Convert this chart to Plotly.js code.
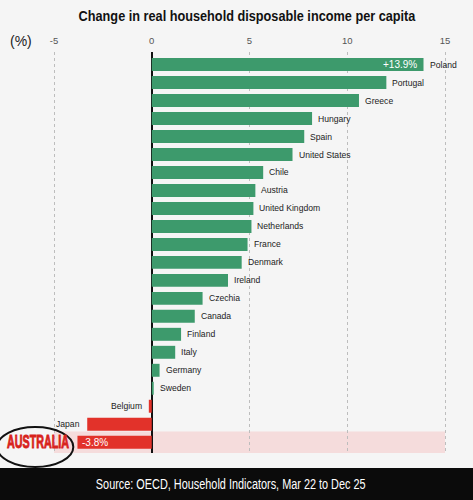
<!DOCTYPE html>
<html><head><meta charset="utf-8">
<script src="https://cdn.plot.ly/plotly-3.0.1.min.js"></script>
<style>body{margin:0;background:#f5f5f5}</style>
</head><body><div id="chart" style="width:473px;height:500px"></div>
<script>
const countries = ["Poland","Portugal","Greece","Hungary","Spain","United States","Chile","Austria","United Kingdom","Netherlands","France","Denmark","Ireland","Czechia","Canada","Finland","Italy","Germany","Sweden","Belgium","Japan","Australia"];
const values = [13.9,12.0,10.6,8.2,7.8,7.2,5.7,5.3,5.2,5.1,4.9,4.6,3.9,2.6,2.2,1.5,1.2,0.4,0.1,-0.15,-3.3,-3.8];
const tickVals = [-5,0,5,10,15];
const tickText = ["-5","0","5","10","15"];
const highlight = "Australia";
const labelCountries = ["Poland","Australia"];
const labelTexts = ["+13.9%","-3.8%"];
const titleText = "Change in real household disposable income per capita";
const sourceText = "Source: OECD, Household Indicators, Mar 22 to Dec 25";

const GREEN = "#3d9a6c", RED = "#e2322a";
const idx = countries.map((c,i)=>i);
const colors = values.map(v => v >= 0 ? GREEN : RED);
const FONT = 'Liberation Sans, Arial, sans-serif';

const annotations = [];
countries.forEach((c,i)=>{
  if (c === highlight) return;
  const v = values[i];
  annotations.push({x:v, y:i, xref:'x', yref:'y', text:c, showarrow:false,
    xanchor: v>=0?'left':'right', xshift: v>=0?4:-5, yanchor:'middle',
    font:{family:FONT, size:8.6, color:'#222'}});
});
labelCountries.forEach((c,k)=>{
  const i = countries.indexOf(c); const v = values[i];
  annotations.push({x:v, y:i, xref:'x', yref:'y', text:labelTexts[k], showarrow:false,
    xanchor: v>=0?'right':'left', xshift: v>=0?-5:3, yanchor:'middle',
    font:{family:FONT, size:10, color:'#fff'}});
});
const hi = countries.indexOf(highlight);
annotations.push({x:38/473, y:hi, xref:'paper', yref:'y', text:highlight.toUpperCase(), showarrow:false,
  xanchor:'center', yanchor:'middle', font:{family:FONT, size:18, color:'#d8231c', weight:'bold'}});
annotations.push({x:0.017, y:1.028, xref:'paper', yref:'paper', text:'(%)', showarrow:false,
  xanchor:'left', yanchor:'middle', font:{family:FONT, size:14, color:'#222'}});
annotations.push({x:230/473, y:-0.0773, xref:'paper', yref:'paper', text:sourceText, showarrow:false,
  xanchor:'center', yanchor:'middle', font:{family:FONT, size:14.5, color:'#fff'}});

const shapes = [
  {type:'rect', xref:'x', yref:'y', x0:-5, x1:15, y0:hi-0.6, y1:hi+0.6, fillcolor:'#f5dcdc', line:{width:0}, layer:'below'},
  {type:'rect', xref:'paper', yref:'paper', x0:0, x1:1, y0:-0.1172, y1:-0.0374, fillcolor:'#0b0b0b', line:{width:0}},
  {type:'circle', xref:'paper', yref:'paper', x0:-0.006, x1:0.155, y0:(453-467)/401, y1:(453-427)/401, line:{color:'#111', width:2}}
];

const trace = {type:'bar', orientation:'h', x:values, y:idx, width:0.72,
  marker:{color:colors, line:{width:0}}, hoverinfo:'skip'};

const layout = {
  width:473, height:500,
  margin:{l:0, r:0, t:52, b:47},
  paper_bgcolor:'#f5f5f5', plot_bgcolor:'rgba(0,0,0,0)',
  title:{text:titleText, x:247/473, xanchor:'center', y:0.969, yanchor:'middle', yref:'container',
    font:{family:FONT, size:14.5, color:'#111', weight:'bold'}},
  xaxis:{range:[-7.762,16.432], side:'top', tickvals:tickVals, ticktext:tickText,
    showgrid:true, gridcolor:'#bdbdbd', griddash:'dot', gridwidth:1,
    zeroline:true, zerolinecolor:'#111', zerolinewidth:1.5, showline:false, ticks:'',
    ticklabelstandoff:5,
    tickfont:{family:FONT, size:9.5, color:'#555'}, fixedrange:true},
  yaxis:{range:[21.6,-0.7], showticklabels:false, showgrid:false, zeroline:false, fixedrange:true},
  showlegend:false, shapes:shapes, annotations:annotations
};

function condense(el, targetW){
  const bb = el.getBBox();
  if (!bb.width) return;
  const s = targetW / bb.width;
  el.style.transformBox = 'fill-box';
  el.style.transformOrigin = 'center';
  el.style.transform = 'scaleX(' + s + ')';
}
Plotly.newPlot('chart',[trace],layout,{displayModeBar:false, staticPlot:true}).then(()=>{
  const t = document.querySelector('.gtitle');
  if (t) condense(t, 338);
  document.querySelectorAll('.annotation-text').forEach(el=>{
    if (el.textContent === sourceText) condense(el, 270);
    if (el.textContent === highlight.toUpperCase()) {
      condense(el, 62);
      el.style.stroke = '#d8231c';
      el.style.strokeWidth = '0.9px';
    }
  });
});
</script></body></html>
